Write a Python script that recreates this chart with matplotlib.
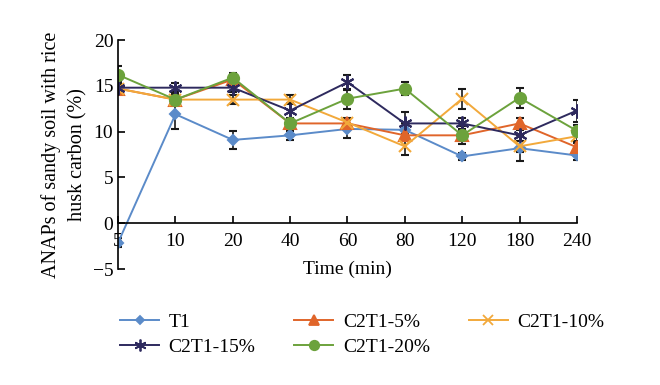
import matplotlib
matplotlib.use('Agg')
import matplotlib.pyplot as plt
from matplotlib.lines import Line2D
import numpy as np

# data
times = ['5', '10', '20', '40', '60', '80', '120', '180', '240']

t1 = [-2.1, 11.9, 9.1, 9.6, 10.3, 10.2, 7.3, 8.2, 7.4]
t1_err = [0.5, 1.6, 1.0, 0.5, 1.0, 0.8, 0.4, 1.4, 0.5]

c5 = [14.7, 13.5, 15.7, 10.9, 10.9, 9.6, 9.6, 10.9, 8.3]
c5_err = [0.6, 0.5, 0.5, 0.5, 0.5, 0.6, 0.6, 0.6, 0.5]

c10 = [14.7, 13.5, 13.5, 13.5, 11.0, 8.4, 13.6, 8.4, 9.5]
c10_err = [0.6, 0.5, 0.5, 0.5, 0.5, 0.9, 1.1, 0.6, 0.5]

c15 = [14.8, 14.8, 14.8, 12.3, 15.4, 10.9, 10.9, 9.6, 12.3]
c15_err = [0.6, 0.5, 0.5, 0.8, 0.8, 1.2, 0.6, 0.6, 1.2]

c20 = [16.2, 13.5, 15.9, 10.9, 13.6, 14.7, 9.6, 13.7, 10.1]
c20_err = [1.0, 0.6, 0.5, 0.5, 1.1, 0.7, 1.0, 1.1, 0.6]

plt.rcParams['font.family'] = ['Liberation Serif', 'DejaVu Serif']

fig = plt.figure(figsize=(6.6, 3.85), dpi=100)
ax = fig.add_axes([0.179, 0.301, 0.695, 0.595])

x = np.arange(len(times))
series = [
    (t1, t1_err, 'T1', '#5b8bc9', 'D', 5),
    (c5, c5_err, 'C2T1-5%', '#e0652a', '^', 8),
    (c10, c10_err, 'C2T1-10%', '#f2a93b', 'x', 8),
    (c15, c15_err, 'C2T1-15%', '#2e2a5e', (6, 2, 0), 10),
    (c20, c20_err, 'C2T1-20%', '#6ca23c', 'o', 8),
]
handles = {}
for vals, err, name, col, mk, ms in series:
    ax.errorbar(x, vals, yerr=err, color=col, marker=mk, markersize=ms,
                markeredgewidth=1.5, linewidth=1.4, ecolor='#1a1a1a',
                elinewidth=1.2, capsize=3, capthick=1.2)
    handles[name] = Line2D([], [], color=col, marker=mk, markersize=ms * 0.85,
                           markeredgewidth=1.3, linewidth=1.4)

ax.set_xlim(0, len(times) - 1)
ax.set_ylim(-5, 20)
ax.set_yticks([-5, 0, 5, 10, 15, 20])
ax.set_xticks(x)
ax.set_xticklabels(times)
ax.spines['bottom'].set_position(('data', 0))
ax.spines['top'].set_visible(False)
ax.spines['right'].set_visible(False)
ax.spines['left'].set_linewidth(1.2)
ax.spines['bottom'].set_linewidth(1.2)
ax.tick_params(axis='both', direction='in', length=5, width=1.2, labelsize=14)
ax.tick_params(axis='x', pad=7)

ax.set_xlabel('Time (min)', fontsize=14, labelpad=8)
ax.set_ylabel('ANAPs of sandy soil with rice\nhusk carbon (%)', fontsize=14.5,
              labelpad=4, linespacing=1.5)

# legend fills column by column, so order to get rows like the reference
order = ['T1', 'C2T1-15%', 'C2T1-5%', 'C2T1-20%', 'C2T1-10%']
fig.legend([handles[k] for k in order], order, loc='upper left',
           bbox_to_anchor=(0.182, 0.187), ncol=3, frameon=False, borderpad=0,
           borderaxespad=0, fontsize=14, columnspacing=2.0, handlelength=2.0,
           handletextpad=0.5, labelspacing=0.4)

plt.savefig('out.png')
plt.close()
